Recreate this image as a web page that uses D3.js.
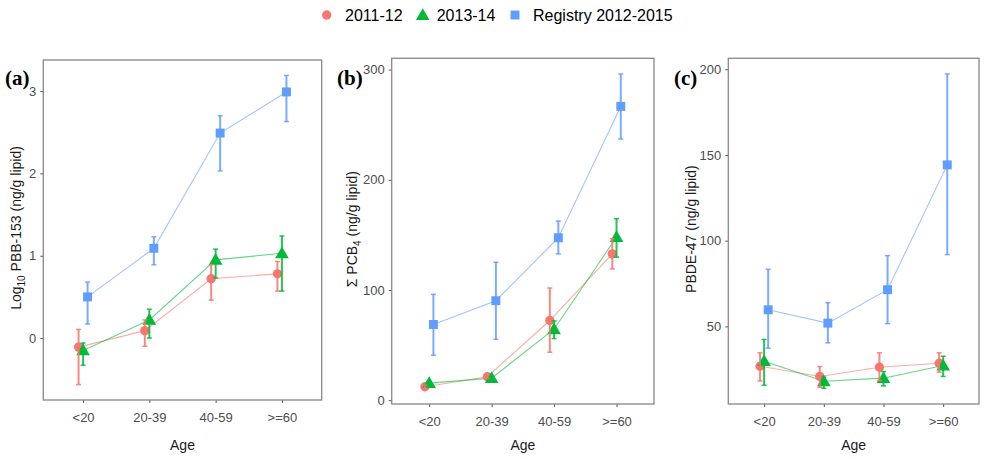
<!DOCTYPE html>
<html><head><meta charset="utf-8">
<script src="https://cdn.jsdelivr.net/npm/d3@7"></script>
<style>body{margin:0;background:#fff}svg{display:block}</style>
</head><body>
<script>
// ---- data ----
const ages = ["<20", "20-39", "40-59", ">=60"];
const seriesNames = ["2011-12", "2013-14", "Registry 2012-2015"];
const seriesColors = ["#F8766D", "#00BA38", "#619CFF"];

// (a) Log10 PBB-153
const pbb153_2011 = [-0.11, 0.09, 0.72, 0.78];
const pbb153_2011_lo = [-0.565, -0.10, 0.46, 0.57];
const pbb153_2011_hi = [0.105, 0.22, 0.89, 0.93];
const pbb153_2013 = [-0.15, 0.22, 0.95, 1.03];
const pbb153_2013_lo = [-0.33, 0.0, 0.73, 0.57];
const pbb153_2013_hi = [-0.06, 0.35, 1.08, 1.24];
const pbb153_reg = [0.50, 1.09, 2.49, 2.99];
const pbb153_reg_lo = [0.17, 0.89, 2.03, 2.63];
const pbb153_reg_hi = [0.68, 1.23, 2.70, 3.19];
const pbb153_ticks = [0, 1, 2, 3];

// (b) Sum PCB4
const pcb4_2011 = [12.2, 21.3, 72.3, 132.8];
const pcb4_2011_lo = [10.8, 19.8, 43.5, 119.1];
const pcb4_2011_hi = [13.6, 22.8, 101.8, 146.5];
const pcb4_2013 = [15.5, 20.0, 64.4, 148.0];
const pcb4_2013_lo = [14.0, 18.6, 55.9, 129.8];
const pcb4_2013_hi = [17.0, 21.4, 72.0, 164.7];
const pcb4_reg = [68.7, 90.3, 147.4, 266.6];
const pcb4_reg_lo = [40.7, 55.3, 132.8, 237.0];
const pcb4_reg_hi = [96.0, 125.2, 162.6, 296.0];
const pcb4_ticks = [0, 100, 200, 300];

// (c) PBDE-47
const pbde47_2011 = [26.8, 20.8, 26.2, 28.5];
const pbde47_2011_lo = [18.2, 14.5, 18.4, 23.3];
const pbde47_2011_hi = [34.6, 26.6, 34.6, 34.6];
const pbde47_2013 = [29.7, 18.0, 19.8, 27.2];
const pbde47_2013_lo = [15.7, 13.9, 15.3, 20.8];
const pbde47_2013_hi = [42.4, 20.4, 23.7, 32.6];
const pbde47_reg = [59.7, 51.9, 71.4, 144.2];
const pbde47_reg_lo = [37.3, 40.4, 51.6, 91.9];
const pbde47_reg_hi = [83.3, 63.8, 91.3, 197.2];
const pbde47_ticks = [50, 100, 150, 200];

// ---- layout ----
const W = 985, H = 459;
const FONT = "'Liberation Sans', Arial, sans-serif";
const svg = d3.select("body").append("svg").attr("width", W).attr("height", H);

const panels = [
  { tag: "(a)", tagX: 5, tagY: 85, box: [43.3, 60, 321.7, 400], titleX: 16,
    title: [["Log", 0], ["10", 1], [" PBB-153 (ng/g lipid)", 0]],
    ticks: pbb153_ticks,
    series: [[pbb153_2011, pbb153_2011_lo, pbb153_2011_hi],
             [pbb153_2013, pbb153_2013_lo, pbb153_2013_hi],
             [pbb153_reg, pbb153_reg_lo, pbb153_reg_hi]] },
  { tag: "(b)", tagX: 337, tagY: 85, box: [391.7, 58.3, 654, 404], titleX: 352,
    title: [["\u03A3 PCB", 0], ["4", 1], [" (ng/g lipid)", 0]],
    ticks: pcb4_ticks,
    series: [[pcb4_2011, pcb4_2011_lo, pcb4_2011_hi],
             [pcb4_2013, pcb4_2013_lo, pcb4_2013_hi],
             [pcb4_reg, pcb4_reg_lo, pcb4_reg_hi]] },
  { tag: "(c)", tagX: 674, tagY: 85, box: [728.3, 58.3, 979, 404], titleX: 691,
    title: [["PBDE-47 (ng/g lipid)", 0]],
    ticks: pbde47_ticks,
    series: [[pbde47_2011, pbde47_2011_lo, pbde47_2011_hi],
             [pbde47_2013, pbde47_2013_lo, pbde47_2013_hi],
             [pbde47_reg, pbde47_reg_lo, pbde47_reg_hi]] }
];

const dodge = [-0.068, 0, 0.068];
const symbols = [d3.symbolCircle, d3.symbolTriangle, d3.symbolSquare];
const symSizes = [68, 80, 80];

panels.forEach(p => {
  const [x0, y0, x1, y1] = p.box;
  const x = d3.scalePoint().domain(ages).range([x0, x1]).padding(0.6);
  const step = x.step();
  const allVals = p.series.flatMap(s => [...s[1], ...s[2]]);
  const [mn, mx] = d3.extent(allVals);
  const pad = (mx - mn) * 0.05;
  const y = d3.scaleLinear().domain([mn - pad, mx + pad]).range([y1, y0]);

  const g = svg.append("g");

  // axes
  const xAxis = g.append("g").attr("transform", `translate(0,${y1})`)
    .call(d3.axisBottom(x).tickSize(3).tickPadding(10));
  const yAxis = g.append("g").attr("transform", `translate(${x0},0)`)
    .call(d3.axisLeft(y).tickValues(p.ticks).tickFormat(d3.format("d")).tickSize(3).tickPadding(4));
  [xAxis, yAxis].forEach(a => {
    a.select(".domain").remove();
    a.selectAll(".tick line").attr("stroke", "#555").attr("stroke-width", 1);
    a.selectAll(".tick text").attr("fill", "#4d4d4d").style("font-family", FONT).style("font-size", "13px");
  });

  // panel border
  g.append("rect").attr("x", x0).attr("y", y0).attr("width", x1 - x0).attr("height", y1 - y0)
    .attr("fill", "none").attr("stroke", "#888").attr("stroke-width", 1.3);

  // x title
  g.append("text").attr("x", (x0 + x1) / 2).attr("y", 450).attr("text-anchor", "middle")
    .style("font-family", FONT).style("font-size", "14px").attr("fill", "#1a1a1a").text("Age");

  // y title
  const yt = g.append("text")
    .attr("transform", `translate(${p.titleX},${(y0 + y1) / 2 - 2}) rotate(-90)`)
    .attr("text-anchor", "middle").attr("dy", "0.35em")
    .style("font-family", FONT).style("font-size", "14px").attr("fill", "#1a1a1a");
  let sub = false;
  p.title.forEach(([t, s]) => {
    const ts = yt.append("tspan").text(t);
    if (s && !sub) { ts.attr("dy", 4).style("font-size", "10px"); sub = true; }
    else if (!s && sub) { ts.attr("dy", -4); sub = false; }
  });

  // panel tag
  g.append("text").attr("x", p.tagX).attr("y", p.tagY)
    .style("font-family", "'Liberation Serif', 'Times New Roman', serif")
    .style("font-size", "21px").style("font-weight", "bold").attr("fill", "#000").text(p.tag);

  const line = d3.line();
  p.series.forEach((s, si) => {
    const col = seriesColors[si];
    const pts = ages.map((a, i) => [x(a) + dodge[si] * step, y(s[0][i])]);
    g.append("path").attr("d", line(pts)).attr("fill", "none")
      .attr("stroke", col).attr("stroke-opacity", 0.6).attr("stroke-width", 1.1);
  });
  p.series.forEach((s, si) => {
    const col = seriesColors[si];
    ages.forEach((a, i) => {
      const cx = x(a) + dodge[si] * step;
      g.append("path").attr("d", d3.symbol(symbols[si], symSizes[si])())
        .attr("transform", `translate(${cx},${y(s[0][i]) + (si === 1 ? 1 : 0)})`)
        .attr("fill", col);
    });
  });
  p.series.forEach((s, si) => {
    const col = seriesColors[si];
    ages.forEach((a, i) => {
      const cx = x(a) + dodge[si] * step;
      const eg = g.append("g").attr("stroke", col).attr("stroke-opacity", 0.85);
      eg.append("line").attr("x1", cx).attr("x2", cx).attr("y1", y(s[1][i])).attr("y2", y(s[2][i]))
        .attr("stroke-width", 2);
      [s[1][i], s[2][i]].forEach(v => {
        eg.append("line").attr("x1", cx - 2.5).attr("x2", cx + 2.5).attr("y1", y(v)).attr("y2", y(v))
          .attr("stroke-width", 1.5);
      });
    });
  });
});

// legend
const legX = [326.7, 422.7, 515];
const legTextX = [345, 436.7, 533];
const leg = svg.append("g");
seriesNames.forEach((n, i) => {
  leg.append("path").attr("d", d3.symbol(symbols[i], symSizes[i])())
    .attr("transform", `translate(${legX[i]},${15 + (i === 1 ? 1 : 0)})`).attr("fill", seriesColors[i]);
  leg.append("text").attr("x", legTextX[i]).attr("y", 21)
    .style("font-family", FONT).style("font-size", "16px").attr("fill", "#000").text(n);
});
</script>
</body></html>
